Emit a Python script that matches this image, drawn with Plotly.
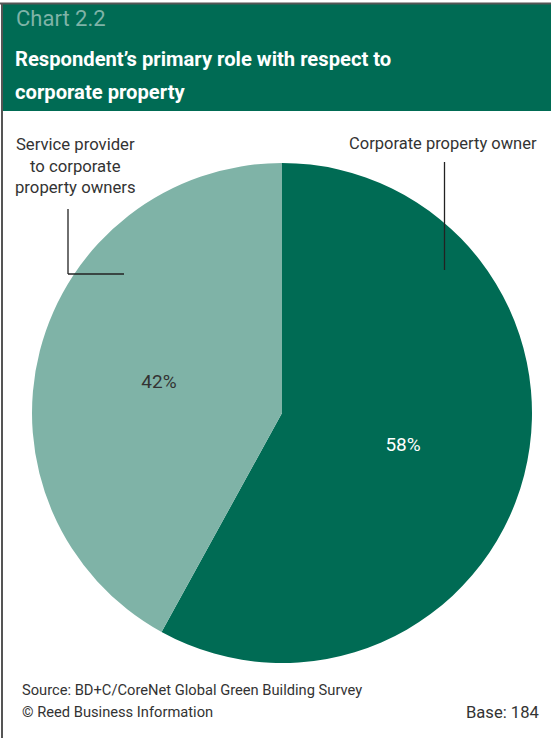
import plotly.graph_objects as go

categories = ["Corporate property owner", "Service provider to corporate property owners"]
values = [58, 42]
colors = ["#006B54", "#7FB3A7"]
text_colors = ["#FFFFFF", "#333333"]

W, H = 551, 738
FONT = "Roboto, Liberation Sans, sans-serif"

def px(x):
    return x / W

def py(y):
    return 1 - y / H

fig = go.Figure(go.Pie(
    labels=categories,
    values=values,
    marker=dict(colors=colors, line=dict(width=0)),
    sort=False,
    direction="clockwise",
    rotation=0,
    textinfo="percent",
    texttemplate="%{value}%",
    textposition="inside",
    insidetextorientation="horizontal",
    textfont=dict(family=FONT, size=19, color=text_colors),
    showlegend=False,
    hoverinfo="label+value",
    domain=dict(x=[px(32), px(532)], y=[py(663), py(163)]),
))

shapes = [
    # header band
    dict(type="rect", xref="paper", yref="paper", x0=px(2), x1=1, y0=py(111), y1=py(4),
         fillcolor="#006B54", line=dict(width=0), layer="below"),
    # top border
    dict(type="line", xref="paper", yref="paper", x0=0, x1=1, y0=py(3.5), y1=py(3.5),
         line=dict(color="#555555", width=2)),
    # left border
    dict(type="line", xref="paper", yref="paper", x0=px(2), x1=px(2), y0=py(3), y1=0,
         line=dict(color="#555555", width=2)),
    # leader lines
    dict(type="line", xref="paper", yref="paper", x0=px(68), x1=px(68), y0=py(209), y1=py(274),
         line=dict(color="#222222", width=1.3)),
    dict(type="line", xref="paper", yref="paper", x0=px(68), x1=px(124), y0=py(274), y1=py(274),
         line=dict(color="#222222", width=1.3)),
    dict(type="line", xref="paper", yref="paper", x0=px(444.5), x1=px(444.5), y0=py(162), y1=py(270),
         line=dict(color="#222222", width=1.3)),
]

annotations = [
    dict(text="Chart 2.2", x=px(14), y=py(18), xanchor="left", yanchor="middle",
         font=dict(family=FONT, size=22, color="#7FB3A7")),
    dict(text="<b>Respondent’s primary role with respect to</b>", x=px(13), y=py(59),
         xanchor="left", yanchor="middle", font=dict(family=FONT, size=20.2, color="white")),
    dict(text="<b>corporate property</b>", x=px(13), y=py(92),
         xanchor="left", yanchor="middle", font=dict(family=FONT, size=20.2, color="white")),
    dict(text="Service provider<br>to corporate<br>property owners", x=px(75), y=py(166),
         xanchor="center", yanchor="middle", align="center",
         font=dict(family=FONT, size=16.7, color="#333333")),
    dict(text="Corporate property owner", x=px(443), y=py(143), xanchor="center", yanchor="middle",
         font=dict(family=FONT, size=16.5, color="#333333")),
    dict(text="Source: BD+C/CoreNet Global Green Building Survey", x=px(20), y=py(690),
         xanchor="left", yanchor="middle", font=dict(family=FONT, size=14.7, color="#333333")),
    dict(text="© Reed Business Information", x=px(20), y=py(712),
         xanchor="left", yanchor="middle", font=dict(family=FONT, size=14.7, color="#333333")),
    dict(text="Base: 184", x=px(541), y=py(712), xanchor="right", yanchor="middle",
         font=dict(family=FONT, size=16.6, color="#333333")),
]
for a in annotations:
    a.update(xref="paper", yref="paper", showarrow=False)

fig.update_layout(
    width=W, height=H,
    margin=dict(l=0, r=0, t=0, b=0),
    paper_bgcolor="white", plot_bgcolor="white",
    shapes=shapes, annotations=annotations,
    uniformtext=dict(minsize=10, mode="show"),
)

fig.write_html(
    "out.html",
    config={"displayModeBar": False},
    post_script="document.body.style.margin='0';document.body.style.overflow='hidden';",
)
